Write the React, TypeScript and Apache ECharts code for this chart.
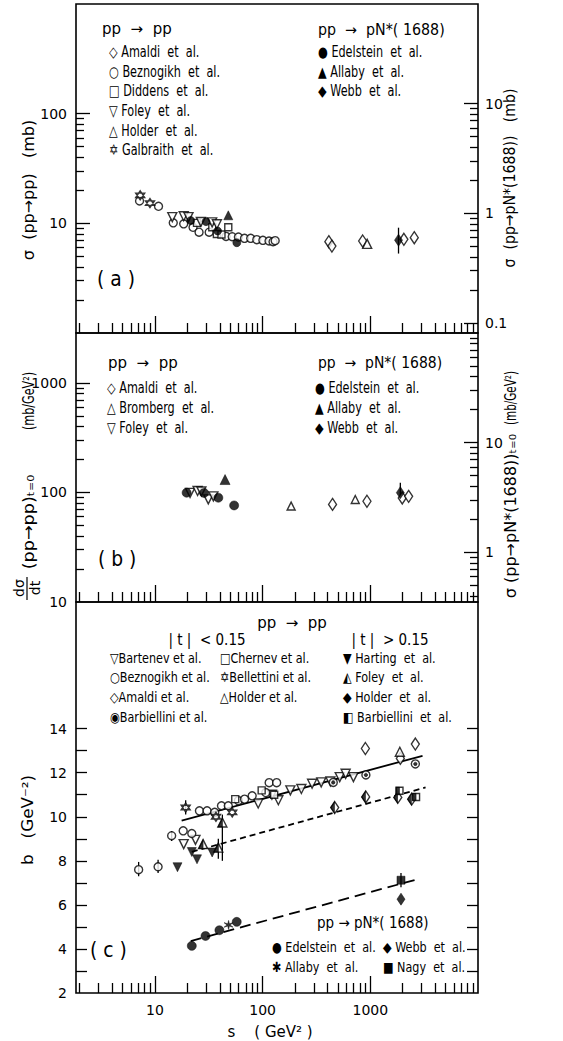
import React, { useEffect, useRef } from "react";
import * as echarts from "echarts";

// ---------------- tick values ----------------
const xMajorTicks = [10, 100, 1000];
const xMinorTicks = [2, 3, 4, 5, 6, 7, 8, 9, 20, 30, 40, 50, 60, 70, 80, 90, 200, 300, 400, 500, 600, 700, 800, 900, 2000, 3000, 4000, 5000, 6000, 7000, 8000, 9000];
const aLeftMajor = [10, 100];
const aLeftMinor = [2, 3, 4, 5, 6, 7, 8, 9, 20, 30, 40, 50, 60, 70, 80, 90];
const aRightMajor = [0.1, 1, 10];
const aRightMinor = [0.2, 0.3, 0.4, 0.5, 0.6, 0.7, 0.8, 0.9, 2, 3, 4, 5, 6, 7, 8, 9];
const bLeftMajor = [100, 1000];
const bLeftLabels = [10, 100, 1000];
const bLeftMinor = [20, 30, 40, 50, 60, 70, 80, 90, 200, 300, 400, 500, 600, 700, 800, 900];
const bRightMajor = [1, 10];
const bRightMinor = [0.4, 0.5, 0.6, 0.7, 0.8, 0.9, 2, 3, 4, 5, 6, 7, 8, 9, 20, 30, 40, 50, 60, 70, 80, 90];
const cTicks = [3, 4, 5, 6, 7, 8, 9, 10, 11, 12, 13, 14];
const cLabels = [2, 4, 6, 8, 10, 12, 14];

// ---------------- panel (a): sigma elastic (mb) / sigma pN* (mb, right axis) ----------------
const aAmaldi = [[412, 6.8], [440, 6.2], [849, 6.9], [2050, 7.15], [2560, 7.4]];
const aBeznogikh = [[7.2, 16.0], [10.8, 14.3], [14.8, 10.1], [18.5, 9.9], [22.6, 9.2], [25.7, 8.3], [31.9, 8.3], [45.8, 7.6], [52.2, 7.55], [59.6, 7.5], [67.9, 7.3], [77.5, 7.3], [88.3, 7.1], [100.6, 7.0], [114.7, 6.9], [125, 6.8], [130.8, 6.95]];
const aDiddens = [[24.6, 10.1], [34.1, 9.2], [37.6, 8.0], [41.5, 7.9], [48, 9.2]];
const aFoley = [[14.5, 11.4], [18.5, 11.6], [20.5, 11.4], [26.7, 10.3], [34, 10.2], [37.6, 9.8]];
const aHolder = [[935, 6.5]];
const aGalbraith = [[7.3, 18.0], [9.0, 15.3]];
const aEdelstein = [[21.5, 0.86], [29.8, 0.84], [38.2, 0.69], [57.6, 0.54]];
const aAllaby = [[48, 0.96]];
const aWebb = [[1828, 0.57]];
const aWebbErr = [[1828, 0.43, 0.74]];

// ---------------- panel (b): dsigma/dt at t=0 ----------------
const bAmaldi = [[446, 77.7], [931, 83], [1980, 89], [2270, 92]];
const bBromberg = [[184, 75], [725, 86]];
const bFoley = [[21.2, 99], [24.9, 103], [27, 102], [31.3, 86.3], [34.9, 92]];
const bEdelstein = [[19.7, 3.49], [28.6, 3.47], [38.8, 3.14], [54.4, 2.67]];
const bAllaby = [[44.8, 4.6]];
const bWebb = [[1900, 3.49]];
const bWebbErr = [[1900, 3.3, 4.3]];

// ---------------- panel (c): slope b ----------------
const cBartenev = [[18.5, 8.76], [23.8, 8.95], [91, 10.6], [122, 11.0], [140, 10.75], [181, 11.2], [229, 11.26], [288, 11.5], [350, 11.56], [426, 11.6], [520, 11.8], [590, 11.95], [697, 11.8]];
const cBeznogikh = [[7.06, 7.6], [10.7, 7.73], [14.3, 9.14], [18.3, 9.36], [22.0, 9.24], [25.9, 10.27], [30.5, 10.27], [35.9, 10.2], [41.5, 10.5], [48, 10.5], [59.6, 10.73], [68, 10.8], [80, 10.95], [107, 11.1], [115, 11.55], [135, 11.55]];
const cAmaldi = [[900, 13.1], [1900, 12.65], [2620, 13.3]];
const cBarbiellini = [[453, 11.56], [910, 11.9], [2620, 12.4]];
const cChernev = [[55.7, 10.8], [98, 11.2], [128, 11.0]];
const cBellettini = [[19.3, 10.42], [36.9, 10.0], [52.2, 10.2]];
const cHolder = [[1880, 12.95]];
const cHarting = [[16.2, 7.71], [22, 8.4], [24.6, 8.07], [34, 8.38]];
const cFoley = [[28, 8.76], [38.8, 8.6], [42.3, 9.74]];
const cHolderT = [[467, 10.42], [906, 10.9], [1800, 10.88], [2420, 10.8]];
const cBarbielliniT = [[1866, 11.18], [2660, 10.9]];
const cEdelstein = [[22, 4.14], [29.5, 4.59], [39.7, 4.85], [57.5, 5.23]];
const cAllaby = [[48.3, 5.09]];
const cWebb = [[1927, 6.26]];
const cNagy = [[1927, 7.12]];
const cErr = [[7.06, 7.3, 7.95], [10.7, 7.45, 8.05], [14.3, 8.9, 9.35], [19.3, 10.1, 10.75], [42.3, 8.0, 10.1], [38.8, 8.1, 9.0], [1927, 6.8, 7.45]];
const fitSolid = [[17.7, 9.82], [3054, 12.77]];
const fitDashed = [[22, 8.41], [3260, 11.33]];
const fitPn = [[21.5, 4.36], [2768, 7.17]];

// ---------------- styling ----------------
const FONT = "DejaVu Sans, sans-serif";
const OPEN = { color: "#fff", borderColor: "#000", borderWidth: 1.4 };
const FILL = { color: "#000", borderColor: "#000", borderWidth: 0.6 };
const STAR6 = "path://M0,-10L8.66,5L-8.66,5Z M0,10L-8.66,-5L8.66,-5Z";
const ASTER = "path://M0,-10L-1.5,-2.6L-8.66,-5L-3,0L-8.66,5L-1.5,2.6L0,10L1.5,2.6L8.66,5L3,0L8.66,-5L1.5,-2.6Z";
const HALF_DIAMOND = "path://M0,0L-5,10L0,20Z";
const HALF_TRI = "path://M0,0L0,10L-6,10Z";

function sc(data: number[][], xi: number, yi: number, symbol: string, size: any, style: any, rotate = 0, offset: number[] = [0, 0]) {
  return {
    type: "scatter", data, xAxisIndex: xi, yAxisIndex: yi, symbol, symbolSize: size,
    symbolRotate: rotate, symbolOffset: offset, itemStyle: style, z: 3, silent: true,
  };
}

function err(data: number[][], xi: number, yi: number) {
  return {
    type: "custom", data, xAxisIndex: xi, yAxisIndex: yi, coordinateSystem: "cartesian2d",
    encode: { x: 0, y: [1, 2] }, z: 2, silent: true,
    renderItem: (_p: any, api: any) => {
      const a = api.coord([api.value(0), api.value(1)]);
      const b = api.coord([api.value(0), api.value(2)]);
      return { type: "line", shape: { x1: a[0], y1: a[1], x2: b[0], y2: b[1] }, style: { stroke: "#000", lineWidth: 1.3 } };
    },
  };
}

function fit(data: number[][], dash: any) {
  return {
    type: "line", data, xAxisIndex: 4, yAxisIndex: 8, symbol: "none", silent: true, z: 1,
    lineStyle: { color: "#000", width: 1.8, type: dash },
  };
}

const fmt = (v: number) => (v < 1 ? String(Math.round(v * 10) / 10) : String(Math.round(v)));

function xAx(grid: number, ticks: number[], len: number, labels: number[] | null) {
  return {
    type: "log", logBase: 10, min: 1.85, max: 10000, gridIndex: grid, position: "bottom",
    axisLine: { show: false, onZero: false }, splitLine: { show: false },
    axisTick: { show: true, inside: true, length: len, customValues: ticks, lineStyle: { color: "#000", width: 1.3 } },
    axisLabel: labels
      ? { show: true, customValues: labels, formatter: fmt, color: "#000", fontSize: 14, fontFamily: FONT, margin: 10 }
      : { show: false },
  };
}

function yAx(grid: number, type: string, min: number, max: number, pos: string, ticks: number[], len: number, labels: number[] | null, margin = 9) {
  const o: any = {
    type, min, max, gridIndex: grid, position: pos,
    axisLine: { show: false, onZero: false }, splitLine: { show: false },
    axisTick: { show: true, inside: true, length: len, customValues: ticks, lineStyle: { color: "#000", width: 1.3 } },
    axisLabel: labels
      ? { show: true, customValues: labels, formatter: fmt, color: "#000", fontSize: 14, fontFamily: FONT, margin }
      : { show: false },
  };
  if (type === "log") o.logBase = 10;
  return o;
}

function T(x: number, y: number, text: string, size = 15, sx = 0.75, align = "left", rot = 0) {
  return {
    type: "text", x, y, scaleX: sx, rotation: rot, silent: true,
    style: {
      text, fill: "#000", fontSize: size, fontFamily: FONT,
      align, verticalAlign: "middle", textAlign: align, textVerticalAlign: "middle",
    },
  };
}

export default function App() {
  const ref = useRef<HTMLDivElement>(null);
  useEffect(() => {
    if (!ref.current) return;
    const chart = echarts.init(ref.current, null, { renderer: "svg" });
    const gridBase = { left: 76, width: 402, show: true, borderColor: "#000", borderWidth: 1.6, backgroundColor: "transparent" };
    const R = Math.PI / 2;
    const option: any = {
      animation: false,
      backgroundColor: "#fff",
      grid: [
        { ...gridBase, top: 4, height: 329 },
        { ...gridBase, top: 333, height: 269 },
        { ...gridBase, top: 602, height: 391 },
      ],
      xAxis: [
        xAx(0, xMajorTicks, 17, null), xAx(0, xMinorTicks, 10, null),
        xAx(1, xMajorTicks, 17, null), xAx(1, xMinorTicks, 10, null),
        xAx(2, xMajorTicks, 17, xMajorTicks), xAx(2, xMinorTicks, 10, null),
      ],
      yAxis: [
        yAx(0, "log", 1, 1000, "left", aLeftMajor, 14, aLeftMajor),
        yAx(0, "log", 1, 1000, "left", aLeftMinor, 8, null),
        yAx(0, "log", 0.0811, 81.1, "right", aRightMajor, 14, aRightMajor, 7),
        yAx(0, "log", 0.0811, 81.1, "right", aRightMinor, 8, null),
        yAx(1, "log", 9.99, 2848, "left", bLeftMajor, 14, bLeftLabels),
        yAx(1, "log", 9.99, 2848, "left", bLeftMinor, 8, null),
        yAx(1, "log", 0.351, 100, "right", bRightMajor, 14, bRightMajor, 7),
        yAx(1, "log", 0.351, 100, "right", bRightMinor, 8, null),
        yAx(2, "value", 2, 19.75, "left", cTicks, 11, cLabels),
        yAx(2, "value", 2, 19.75, "right", cTicks, 11, null),
      ],
      series: [
        // panel a
        err(aWebbErr, 0, 2),
        sc(aAmaldi, 0, 0, "diamond", [8, 12], OPEN),
        sc(aBeznogikh, 0, 0, "circle", 8, OPEN),
        sc(aDiddens, 0, 0, "rect", 7, OPEN),
        sc(aFoley, 0, 0, "triangle", 9, OPEN, 180),
        sc(aHolder, 0, 0, "triangle", 9, OPEN),
        sc(aGalbraith, 0, 0, STAR6, 9, OPEN),
        sc(aEdelstein, 0, 2, "circle", 8, FILL),
        sc(aAllaby, 0, 2, "triangle", 9, FILL),
        sc(aWebb, 0, 2, "diamond", [8, 12], FILL),
        // panel b
        err(bWebbErr, 2, 6),
        sc(bAmaldi, 2, 4, "diamond", [8, 12], OPEN),
        sc(bBromberg, 2, 4, "triangle", 8, OPEN),
        sc(bFoley, 2, 4, "triangle", 9, OPEN, 180),
        sc(bEdelstein, 2, 6, "circle", 9, FILL),
        sc(bAllaby, 2, 6, "triangle", 10, FILL),
        sc(bWebb, 2, 6, "diamond", [8, 12], FILL),
        // panel c
        fit(fitSolid, "solid"),
        fit(fitDashed, [6, 4]),
        fit(fitPn, [11, 6]),
        err(cErr, 4, 8),
        sc(cBartenev, 4, 8, "triangle", 9, OPEN, 180),
        sc(cBeznogikh, 4, 8, "circle", 8, OPEN),
        sc(cAmaldi, 4, 8, "diamond", [8, 12], OPEN),
        sc(cHolder, 4, 8, "triangle", 9, OPEN),
        sc(cChernev, 4, 8, "rect", 7, OPEN),
        sc(cBellettini, 4, 8, STAR6, 9, OPEN),
        sc(cBarbiellini, 4, 8, "circle", 8, OPEN),
        sc(cBarbiellini, 4, 8, "circle", 3.5, FILL),
        sc(cHarting, 4, 8, "triangle", 9, FILL, 180),
        sc(cFoley, 4, 8, "triangle", 9, OPEN),
        sc(cFoley, 4, 8, HALF_TRI, [4.5, 9], FILL, 0, [-2.25, 0]),
        sc(cHolderT, 4, 8, "diamond", [8, 12], OPEN),
        sc(cHolderT, 4, 8, HALF_DIAMOND, [4, 12], FILL, 0, [-2, 0]),
        sc(cBarbielliniT, 4, 8, "rect", 7, OPEN),
        sc(cBarbielliniT, 4, 8, "rect", [3.5, 7], FILL, 0, [-1.75, 0]),
        sc(cEdelstein, 4, 8, "circle", 9, FILL),
        sc(cAllaby, 4, 8, ASTER, 9, FILL),
        sc(cWebb, 4, 8, "diamond", [8, 12], FILL),
        sc(cNagy, 4, 8, "rect", 8, FILL),
      ],
      graphic: [
        // panel a legend
        T(102, 29, "pp  →  pp", 15, 1.0),
        T(109, 52, "◇ Amaldi  et  al."),
        T(109, 72, "○ Beznogikh  et  al."),
        T(109, 91, "□ Diddens  et  al."),
        T(109, 111, "▽ Foley  et  al."),
        T(109, 131, "△ Holder  et  al."),
        T(109, 150, "✡ Galbraith  et  al."),
        T(318, 29, "pp  →  pN*( 1688)", 15, 0.95),
        T(318, 52, "● Edelstein  et  al."),
        T(318, 72, "▲ Allaby  et  al."),
        T(318, 91, "◆ Webb  et  al."),
        T(97, 278, "( a )", 22, 0.85),
        // panel b legend
        T(108, 363, "pp  →  pp", 15, 1.0),
        T(107, 388, "◇ Amaldi  et  al."),
        T(107, 408, "△ Bromberg  et  al."),
        T(107, 428, "▽ Foley  et  al."),
        T(318, 363, "pp  →  pN*( 1688)", 15, 0.93),
        T(315, 388, "● Edelstein  et  al."),
        T(315, 408, "▲ Allaby  et  al."),
        T(315, 428, "◆ Webb  et  al."),
        T(98, 558, "( b )", 22, 0.85),
        // panel c legend
        T(292, 623, "pp  →  pp", 15, 1.0, "center"),
        T(207, 640, "| t |  < 0.15", 15, 0.9, "center"),
        T(390, 640, "| t |  > 0.15", 15, 0.9, "center"),
        T(110, 658, "▽Bartenev et al.", 14, 0.8),
        T(110, 677, "○Beznogikh et al.", 14, 0.8),
        T(110, 697, "◇Amaldi et al.", 14, 0.8),
        T(110, 717, "◉Barbiellini et al.", 14, 0.8),
        T(220, 658, "□Chernev et al.", 14, 0.8),
        T(220, 677, "✡Bellettini et al.", 14, 0.8),
        T(220, 697, "△Holder et al.", 14, 0.8),
        T(343, 658, "▼ Harting  et  al.", 14, 0.8),
        T(343, 677, "◭ Foley  et  al.", 14, 0.8),
        T(343, 697, "◆ Holder  et  al.", 14, 0.8),
        T(343, 717, "◧ Barbiellini  et  al.", 14, 0.8),
        T(317, 923, "pp → pN*( 1688)", 15, 0.9),
        T(272, 947, "● Edelstein  et  al.", 14, 0.8),
        T(383, 947, "◆ Webb  et  al.", 14, 0.8),
        T(272, 967, "✱ Allaby  et  al.", 14, 0.8),
        T(383, 967, "■ Nagy  et  al.", 14, 0.8),
        T(90, 949, "( c )", 22, 0.85),
        // axis names
        T(28, 190, "σ  (pp→pp)   (mb)", 16, 1.0, "center", R),
        T(510, 178, "σ  (pp→pN*(1688))   (mb)", 16, 0.88, "center", R),
        T(28, 401, "(mb/GeV²)", 16, 0.7, "center", R),
        T(28, 522, "(pp→pp)ₜ₌₀", 16, 1.1, "center", R),
        T(19, 588, "dσ", 14, 1.0, "center", R),
        T(35, 588, "dt", 14, 1.0, "center", R),
        { type: "line", silent: true, shape: { x1: 27, y1: 577, x2: 27, y2: 600 }, style: { stroke: "#000", lineWidth: 1.2 } },
        T(510, 398, "(mb/GeV²)", 16, 0.65, "center", R),
        T(510, 516, "σ (pp→pN*(1688))ₜ₌₀", 16, 1.0, "center", R),
        T(28, 820, "b   (GeV⁻²)", 16, 1.05, "center", R),
        T(270, 1032, "s    ( GeV² )", 15, 1.0, "center"),
      ],
    };
    chart.setOption(option);
    return () => chart.dispose();
  }, []);
  return (
    <div
      ref={ref}
      style={{ position: "absolute", left: 0, top: 0, width: 563, height: 1041, background: "#fff" }}
    />
  );
}
